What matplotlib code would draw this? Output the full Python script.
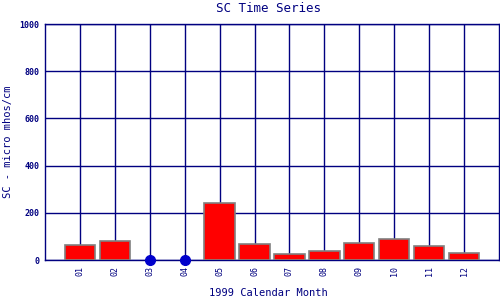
import matplotlib
matplotlib.use('Agg')
import matplotlib.pyplot as plt
import numpy as np

# Monthly SC values, None = no sample
months = ['01', '02', '03', '04', '05', '06', '07', '08', '09', '10', '11', '12']
sc = [63, 80, None, None, 241, 66, 24, 38, 71, 88, 58, 28]

navy = '#000080'
plt.rcParams['font.family'] = ['DejaVu Sans Mono']

fig = plt.figure(figsize=(5, 3), dpi=100)
ax = fig.add_axes([0.09, 0.1333, 0.908, 0.7867])

x = np.arange(1, len(months) + 1)
vals = [v if v is not None else 0 for v in sc]
have = [v is not None for v in sc]

for xi, v, h in zip(x, vals, have):
    if h:
        ax.bar(xi, v, width=0.87, color='red', edgecolor='gray', linewidth=1.2, zorder=3)
    else:
        ax.plot(xi, 0, 'o', color='#0000cc', markersize=7, zorder=4, clip_on=False)

ax.set_xlim(0, 13)
ax.set_ylim(0, 1000)
ax.set_xticks(x)
ax.set_xticklabels(months, rotation=90, fontsize=6, color=navy)
ax.set_yticks([0, 200, 400, 600, 800, 1000])
ax.set_yticklabels(['0', '200', '400', '600', '800', '1000'], fontsize=6, color=navy, fontweight='bold')
ax.tick_params(length=0, pad=4)
ax.grid(True, color=navy, linewidth=1.0, zorder=0)
ax.set_axisbelow(True)
for s in ax.spines.values():
    s.set_color(navy)
    s.set_linewidth(1.0)

fig.text(0.536, 0.972, 'SC Time Series', fontsize=9, color=navy, ha='center', va='center')
fig.text(0.536, 0.022, '1999 Calendar Month', fontsize=7.5, color=navy, ha='center', va='center')
fig.text(0.017, 0.527, 'SC - micro mhos/cm', fontsize=7.5, color=navy, ha='center', va='center',
         rotation=90)

fig.savefig('out.png', dpi=100)
